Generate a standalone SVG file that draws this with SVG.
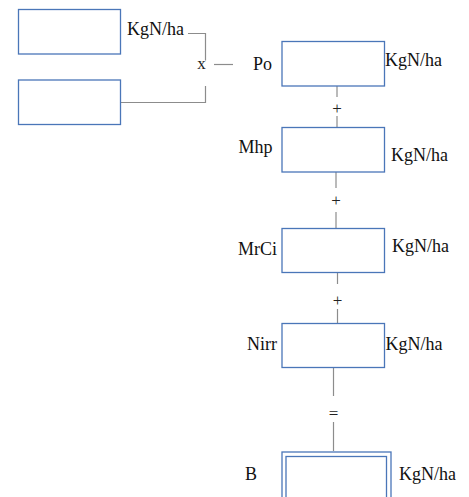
<svg xmlns="http://www.w3.org/2000/svg" width="469" height="497" viewBox="0 0 469 497">
<style>
.box{fill:#fff;stroke:#4a76b8;stroke-width:1.3}
.ln{fill:none;stroke:#8c8c8c;stroke-width:1.2}
.t{font-family:"Liberation Serif","Times New Roman",serif;font-size:18px;fill:#111}
.op{font-family:"Liberation Serif","Times New Roman",serif;font-size:17px;fill:#222;text-anchor:middle}
</style>
<rect width="469" height="497" fill="#fff"/>
<g id="connectors">
<polyline class="ln" points="188,33.5 205.5,33.5 205.5,60.5"/>
<polyline class="ln" points="205.5,86 205.5,102.5 120.5,102.5"/>
<line class="ln" x1="214" y1="64.5" x2="233" y2="64.5"/>
<line class="ln" x1="337" y1="83" x2="337" y2="97"/>
<line class="ln" x1="337" y1="116" x2="337" y2="128"/>
<line class="ln" x1="336" y1="169" x2="336" y2="188"/>
<line class="ln" x1="336" y1="212" x2="336" y2="229"/>
<line class="ln" x1="337.5" y1="269" x2="337.5" y2="284"/>
<line class="ln" x1="337.5" y1="309" x2="337.5" y2="324"/>
<line class="ln" x1="333.5" y1="367" x2="333.5" y2="396"/>
<line class="ln" x1="333.5" y1="422" x2="333.5" y2="451"/>
<text class="op" x="201.5" y="69">x</text>
<text class="op" x="337" y="114">+</text>
<text class="op" x="336" y="206">+</text>
<text class="op" x="337.5" y="306">+</text>
<text class="op" x="333.5" y="419">=</text>
</g>
<g id="box1">
<rect class="box" x="18.5" y="9.5" width="102" height="44.5"/>
<text class="t" x="127" y="35">KgN/ha</text>
</g>
<g id="box2">
<rect class="box" x="18.5" y="80" width="102" height="44.5"/>
</g>
<g id="po">
<rect class="box" x="282" y="41.5" width="102.5" height="44.5"/>
<text class="t" x="253" y="69.5">Po</text>
<text class="t" x="385" y="66">KgN/ha</text>
</g>
<g id="mhp">
<rect class="box" x="282" y="127.5" width="102.5" height="44.5"/>
<text class="t" x="238.5" y="152.5">Mhp</text>
<text class="t" x="391" y="160.5">KgN/ha</text>
</g>
<g id="mrci">
<rect class="box" x="282" y="228.5" width="102.5" height="44"/>
<text class="t" x="238" y="255">MrCi</text>
<text class="t" x="392" y="251.5">KgN/ha</text>
</g>
<g id="nirr">
<rect class="box" x="282" y="323.5" width="102.5" height="44"/>
<text class="t" x="247" y="350">Nirr</text>
<text class="t" x="385.5" y="350">KgN/ha</text>
</g>
<g id="b">
<rect class="box" x="282" y="452" width="109" height="60"/>
<rect class="box" x="286" y="456.5" width="100.5" height="60"/>
<text class="t" x="245" y="480">B</text>
<text class="t" x="399" y="480">KgN/ha</text>
</g>
</svg>
